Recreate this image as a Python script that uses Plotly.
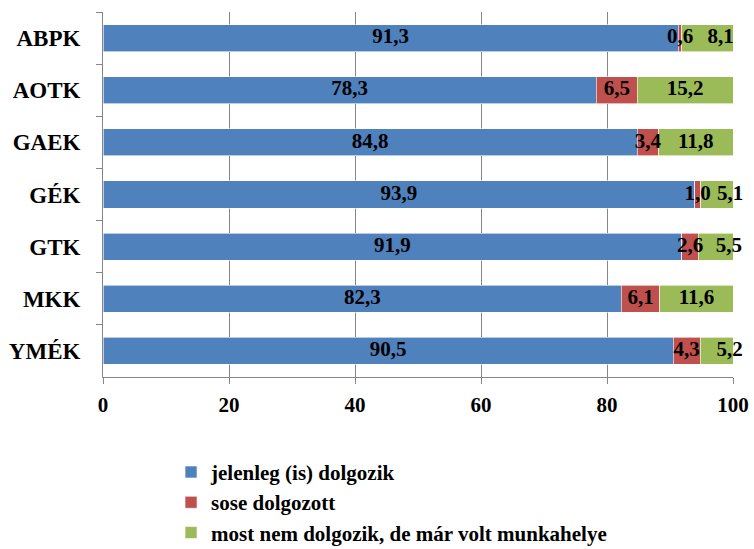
import plotly.graph_objects as go

categories = ["ABPK", "AOTK", "GAEK", "GÉK", "GTK", "MKK", "YMÉK"]
jelenleg = [91.3, 78.3, 84.8, 93.9, 91.9, 82.3, 90.5]
sose = [0.6, 6.5, 3.4, 1.0, 2.6, 6.1, 4.3]
most_nem = [8.1, 15.2, 11.8, 5.1, 5.5, 11.6, 5.2]
x_ticks = [0, 20, 40, 60, 80, 100]

series_names = [
    "jelenleg (is) dolgozik",
    "sose dolgozott",
    "most nem dolgozik, de már volt munkahelye",
]
colors = ["#4F81BD", "#C0504D", "#9BBB59"]

# where the last segment's label sits, so it clears the narrow red label
green_label_pos = ["middle right", "middle center", "middle center",
                   "middle right", "middle right", "middle center",
                   "middle right"]

FONT = "Liberation Serif, Times New Roman, serif"


def fmt(v):
    return f"{v:.1f}".replace(".", ",")


series = [jelenleg, sose, most_nem]

fig = go.Figure()
for name, vals, col in zip(series_names, series, colors):
    fig.add_trace(go.Bar(
        y=categories,
        x=vals,
        name=name,
        orientation="h",
        marker=dict(color=col, line=dict(color="white", width=0.6)),
        hoverinfo="x",
    ))

# value labels drawn above all bar segments, centred on each segment
start = [0.0] * len(categories)
for k, vals in enumerate(series):
    mids = [s + v / 2 for s, v in zip(start, vals)]
    if k == 2:
        positions = green_label_pos
    else:
        positions = ["middle center"] * len(categories)
    fig.add_trace(go.Scatter(
        x=mids,
        y=categories,
        mode="text",
        text=[fmt(v) for v in vals],
        textposition=positions,
        textfont=dict(family=FONT, size=21, color="black", weight="bold"),
        marker=dict(size=1),
        showlegend=False,
        hoverinfo="skip",
        cliponaxis=False,
    ))
    start = [s + v for s, v in zip(start, vals)]

fig.update_layout(
    barmode="stack",
    bargap=0.48,
    width=754,
    height=549,
    margin=dict(l=103, r=21, t=12, b=172, autoexpand=False),
    paper_bgcolor="white",
    plot_bgcolor="white",
    font=dict(family=FONT, size=21, color="black", weight="bold"),
    legend=dict(
        orientation="v",
        x=0.108,
        xanchor="left",
        y=-0.205,
        yanchor="top",
        traceorder="normal",
        font=dict(family=FONT, size=21, color="black", weight="bold"),
        tracegroupgap=0,
    ),
    showlegend=True,
)

fig.update_xaxes(
    range=[0, 100],
    tickvals=x_ticks,
    ticktext=[str(t) for t in x_ticks],
    showgrid=True,
    gridcolor="#868686",
    gridwidth=1,
    showline=True,
    linecolor="#868686",
    linewidth=1,
    ticks="outside",
    ticklen=6,
    tickcolor="#868686",
    tickfont=dict(family=FONT, size=21, color="black", weight="bold"),
    ticklabelstandoff=3,
    zeroline=False,
    automargin=False,
)

fig.update_yaxes(
    categoryorder="array",
    categoryarray=categories,
    autorange="reversed",
    showline=True,
    linecolor="#868686",
    linewidth=1,
    ticks="outside",
    tickson="boundaries",
    ticklen=6,
    tickcolor="#868686",
    tickfont=dict(family=FONT, size=23, color="black", weight="bold"),
    ticklabelstandoff=17,
    showgrid=False,
    automargin=False,
)

fig.write_html("out.html")
